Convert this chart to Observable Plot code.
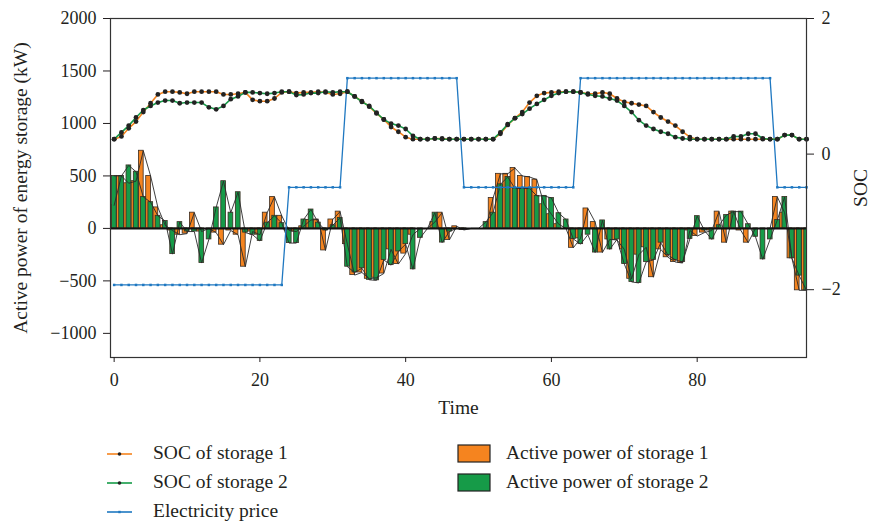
<!DOCTYPE html>
<html><head><meta charset="utf-8">
<script src="https://cdn.jsdelivr.net/npm/d3@7"></script>
<script src="https://cdn.jsdelivr.net/npm/@observablehq/plot@0.6"></script>
<style>
body{margin:0;background:#fff;font-family:"Liberation Serif","DejaVu Serif",serif;}
#wrap{position:relative;width:870px;height:526px;overflow:hidden;}
.li{position:absolute;font-size:19.5px;color:#231f20;line-height:20px;white-space:nowrap;}
.sw{position:absolute;}
</style></head><body>
<div id="wrap"><div id="chart"></div></div>
<script>
// Time steps
const time = d3.range(96);
// Active power of storage 1 (orange), kW
const power1 = [220,500,430,450,740,500,200,30,-20,-60,-50,150,-30,0,-40,-155,-20,-60,-365,-30,
  -60,150,300,120,-20,-30,20,80,85,-210,85,160,-150,-445,-420,-480,-470,-430,-200,-340,
  -240,-60,0,0,60,150,-110,20,-15,0,0,0,290,520,520,575,500,490,465,230,
  135,40,0,-185,-95,190,60,-230,-105,-110,-200,-480,-250,-180,-465,-200,-275,-320,-330,-20,
  -73,-40,-20,160,-136,160,-20,-136,0,0,0,300,150,-285,-590,-590];
// Active power of storage 2 (green), kW
const power2 = [500,500,600,540,300,250,120,70,-245,60,-30,-30,-330,-105,200,450,150,345,-40,-60,
  -120,55,120,50,-140,-140,85,180,55,-20,30,100,-365,-420,-380,-490,-495,-300,-350,-220,
  -150,-390,-90,0,150,-135,-30,0,-10,0,0,60,150,420,490,380,380,380,310,310,
  290,145,85,-100,-150,-60,-230,76,-200,-105,-340,-510,-520,-320,-300,-136,-254,-300,-320,-100,
  117,-20,-105,30,127,160,160,40,-80,-295,-105,80,300,-285,-450,-590];
// SOC of storage 1 and 2 (right axis units)
const soc1 = [0.22,0.26,0.38,0.48,0.62,0.75,0.88,0.92,0.92,0.91,0.89,0.92,0.92,0.92,0.92,0.88,0.88,0.89,0.91,0.80,
  0.78,0.78,0.82,0.91,0.92,0.90,0.91,0.91,0.92,0.91,0.88,0.89,0.92,0.85,0.78,0.70,0.60,0.51,0.40,0.33,
  0.25,0.22,0.22,0.22,0.23,0.23,0.22,0.22,0.22,0.22,0.22,0.22,0.22,0.30,0.43,0.53,0.62,0.76,0.86,0.90,
  0.91,0.92,0.92,0.92,0.91,0.89,0.89,0.91,0.89,0.82,0.77,0.75,0.73,0.71,0.62,0.54,0.48,0.42,0.33,0.25,
  0.22,0.22,0.22,0.22,0.22,0.22,0.22,0.22,0.22,0.22,0.22,0.22,0.28,0.28,0.22,0.22];
const soc2 = [0.22,0.32,0.42,0.54,0.65,0.71,0.76,0.79,0.79,0.75,0.76,0.76,0.76,0.69,0.66,0.71,0.81,0.85,0.91,0.91,
  0.90,0.89,0.90,0.92,0.92,0.87,0.88,0.90,0.90,0.92,0.91,0.92,0.92,0.85,0.77,0.71,0.61,0.51,0.45,0.42,
  0.37,0.27,0.22,0.22,0.23,0.22,0.22,0.22,0.22,0.22,0.22,0.22,0.22,0.32,0.44,0.53,0.59,0.67,0.74,0.80,
  0.86,0.90,0.92,0.92,0.91,0.88,0.86,0.85,0.82,0.79,0.71,0.62,0.50,0.42,0.37,0.33,0.30,0.25,0.23,0.22,
  0.22,0.22,0.22,0.22,0.22,0.26,0.26,0.30,0.30,0.23,0.22,0.22,0.28,0.28,0.22,0.22];
// Electricity price levels (right axis units)
const priceLow = -1.93, priceMid = -0.49, priceHigh = 1.12;
const price = time.map(t => t <= 23 ? priceLow : t <= 31 ? priceMid : t <= 47 ? priceHigh :
  t <= 63 ? priceMid : t <= 90 ? priceHigh : priceMid);
// Ticks
const leftTicks = [-1000, -500, 0, 500, 1000, 1500, 2000];
const rightTicks = [-2, 0, 2];
const xTicks = [0, 20, 40, 60, 80];

const leftDomain = [-1230, 2000], rightDomain = [-3, 2];
const toLeft = v => leftDomain[0] + (v - rightDomain[0]) * (leftDomain[1] - leftDomain[0]) / (rightDomain[1] - rightDomain[0]);
const toRight = L => rightDomain[0] + (L - leftDomain[0]) * (rightDomain[1] - rightDomain[0]) / (leftDomain[1] - leftDomain[0]);
const minus = d => d < 0 ? "\u2212" + Math.abs(d) : String(d);

const data = time.map((t, i) => ({t, p1: power1[i], p2: power2[i], s1: soc1[i], s2: soc2[i], pr: price[i]}));

const ORANGE = "#F5841F", GREEN = "#169B48", BLUE = "#1F78C1", EDGE = "#3a2c22";

const chart = Plot.plot({
  width: 870, height: 430,
  marginLeft: 110, marginRight: 64, marginTop: 18, marginBottom: 73,
  style: {fontFamily: "Liberation Serif, serif", fontSize: "18px", color: "#231f20", background: "#fff"},
  x: {domain: [-0.5, 95]},
  y: {domain: leftDomain},
  marks: [
    Plot.rect(data, {x1: d => d.t - 0.6, x2: d => d.t + 0.05, y1: 0, y2: "p1", fill: ORANGE, stroke: EDGE, strokeWidth: 0.8, clip: true}),
    Plot.rect(data, {x1: d => d.t - 0.3, x2: d => d.t + 0.35, y1: 0, y2: "p2", fill: GREEN, stroke: EDGE, strokeWidth: 0.8, clip: true}),
    Plot.line(data, {x: "t", y: "p1", stroke: "#2a2a2a", strokeWidth: 0.9}),
    Plot.line(data, {x: "t", y: "p2", stroke: "#2a2a2a", strokeWidth: 0.9}),
    Plot.ruleY([0], {stroke: "#111", strokeWidth: 2}),
    Plot.line(data, {x: "t", y: d => toLeft(d.pr), stroke: BLUE, strokeWidth: 1.3}),
    Plot.dot(data, {x: "t", y: d => toLeft(d.pr), symbol: "square", r: 1.4, fill: BLUE}),
    Plot.line(data, {x: "t", y: d => toLeft(d.s1), stroke: ORANGE, strokeWidth: 1.6}),
    Plot.line(data, {x: "t", y: d => toLeft(d.s2), stroke: GREEN, strokeWidth: 1.6}),
    Plot.dot(data, {x: "t", y: d => toLeft(d.s1), r: 2.4, fill: "#222"}),
    Plot.dot(data, {x: "t", y: d => toLeft(d.s2), r: 2.4, fill: "#222"}),
    Plot.frame({stroke: "#333", strokeWidth: 1.2}),
    Plot.axisY({anchor: "left", ticks: leftTicks, tickFormat: minus, tickSize: 7, tickPadding: 7, label: null}),
    Plot.axisY({anchor: "right", ticks: rightTicks.map(toLeft), tickFormat: d => minus(Math.round(toRight(d))), tickSize: 7, tickPadding: 8, label: null}),
    Plot.axisX({anchor: "bottom", ticks: xTicks, tickSize: 5, tickPadding: 11, label: null}),
    Plot.text(["Active power of energy storage (kW)"], {frameAnchor: "left", dx: -90, dy: 0, rotate: -90, textAnchor: "middle", fontSize: 19.5}),
    Plot.text(["SOC"], {frameAnchor: "right", dx: 54, rotate: -90, textAnchor: "middle", fontSize: 19.5}),
    Plot.text(["Time"], {frameAnchor: "bottom", dy: 56, textAnchor: "middle", fontSize: 19.5})
  ]
});
document.getElementById("chart").appendChild(chart);

// Legend
const wrap = document.getElementById("wrap");
const lineItems = [["SOC of storage 1", ORANGE, "circle"], ["SOC of storage 2", GREEN, "circle"], ["Electricity price", BLUE, "square"]];
lineItems.forEach(([label, color, sym], i) => {
  const cy = 454 + i * 29;
  const s = document.createElementNS("http://www.w3.org/2000/svg", "svg");
  s.setAttribute("width", 26); s.setAttribute("height", 10);
  s.setAttribute("class", "sw");
  s.style.left = "107px"; s.style.top = (cy - 5) + "px";
  s.innerHTML = `<line x1="0" x2="25" y1="5" y2="5" stroke="${color}" stroke-width="1.6"/>` +
    (sym === "circle" ? `<circle cx="12.5" cy="5" r="1.8" fill="#222"/>` : `<rect x="11.3" y="3.8" width="2.4" height="2.4" fill="${color}"/>`);
  wrap.appendChild(s);
  const t = document.createElement("div");
  t.className = "li"; t.textContent = label;
  t.style.left = "153px"; t.style.top = (cy - 11) + "px";
  wrap.appendChild(t);
});
const boxItems = [["Active power of storage 1", ORANGE], ["Active power of storage 2", GREEN]];
boxItems.forEach(([label, color], i) => {
  const cy = 454 + i * 29;
  const s = document.createElementNS("http://www.w3.org/2000/svg", "svg");
  s.setAttribute("width", 35); s.setAttribute("height", 20);
  s.setAttribute("class", "sw");
  s.style.left = "457px"; s.style.top = (cy - 10) + "px";
  s.innerHTML = `<rect x="1" y="1" width="32" height="17" fill="${color}" stroke="#222" stroke-width="1.2"/>`;
  wrap.appendChild(s);
  const t = document.createElement("div");
  t.className = "li"; t.textContent = label;
  t.style.left = "506px"; t.style.top = (cy - 11) + "px";
  wrap.appendChild(t);
});
</script>
</body></html>
